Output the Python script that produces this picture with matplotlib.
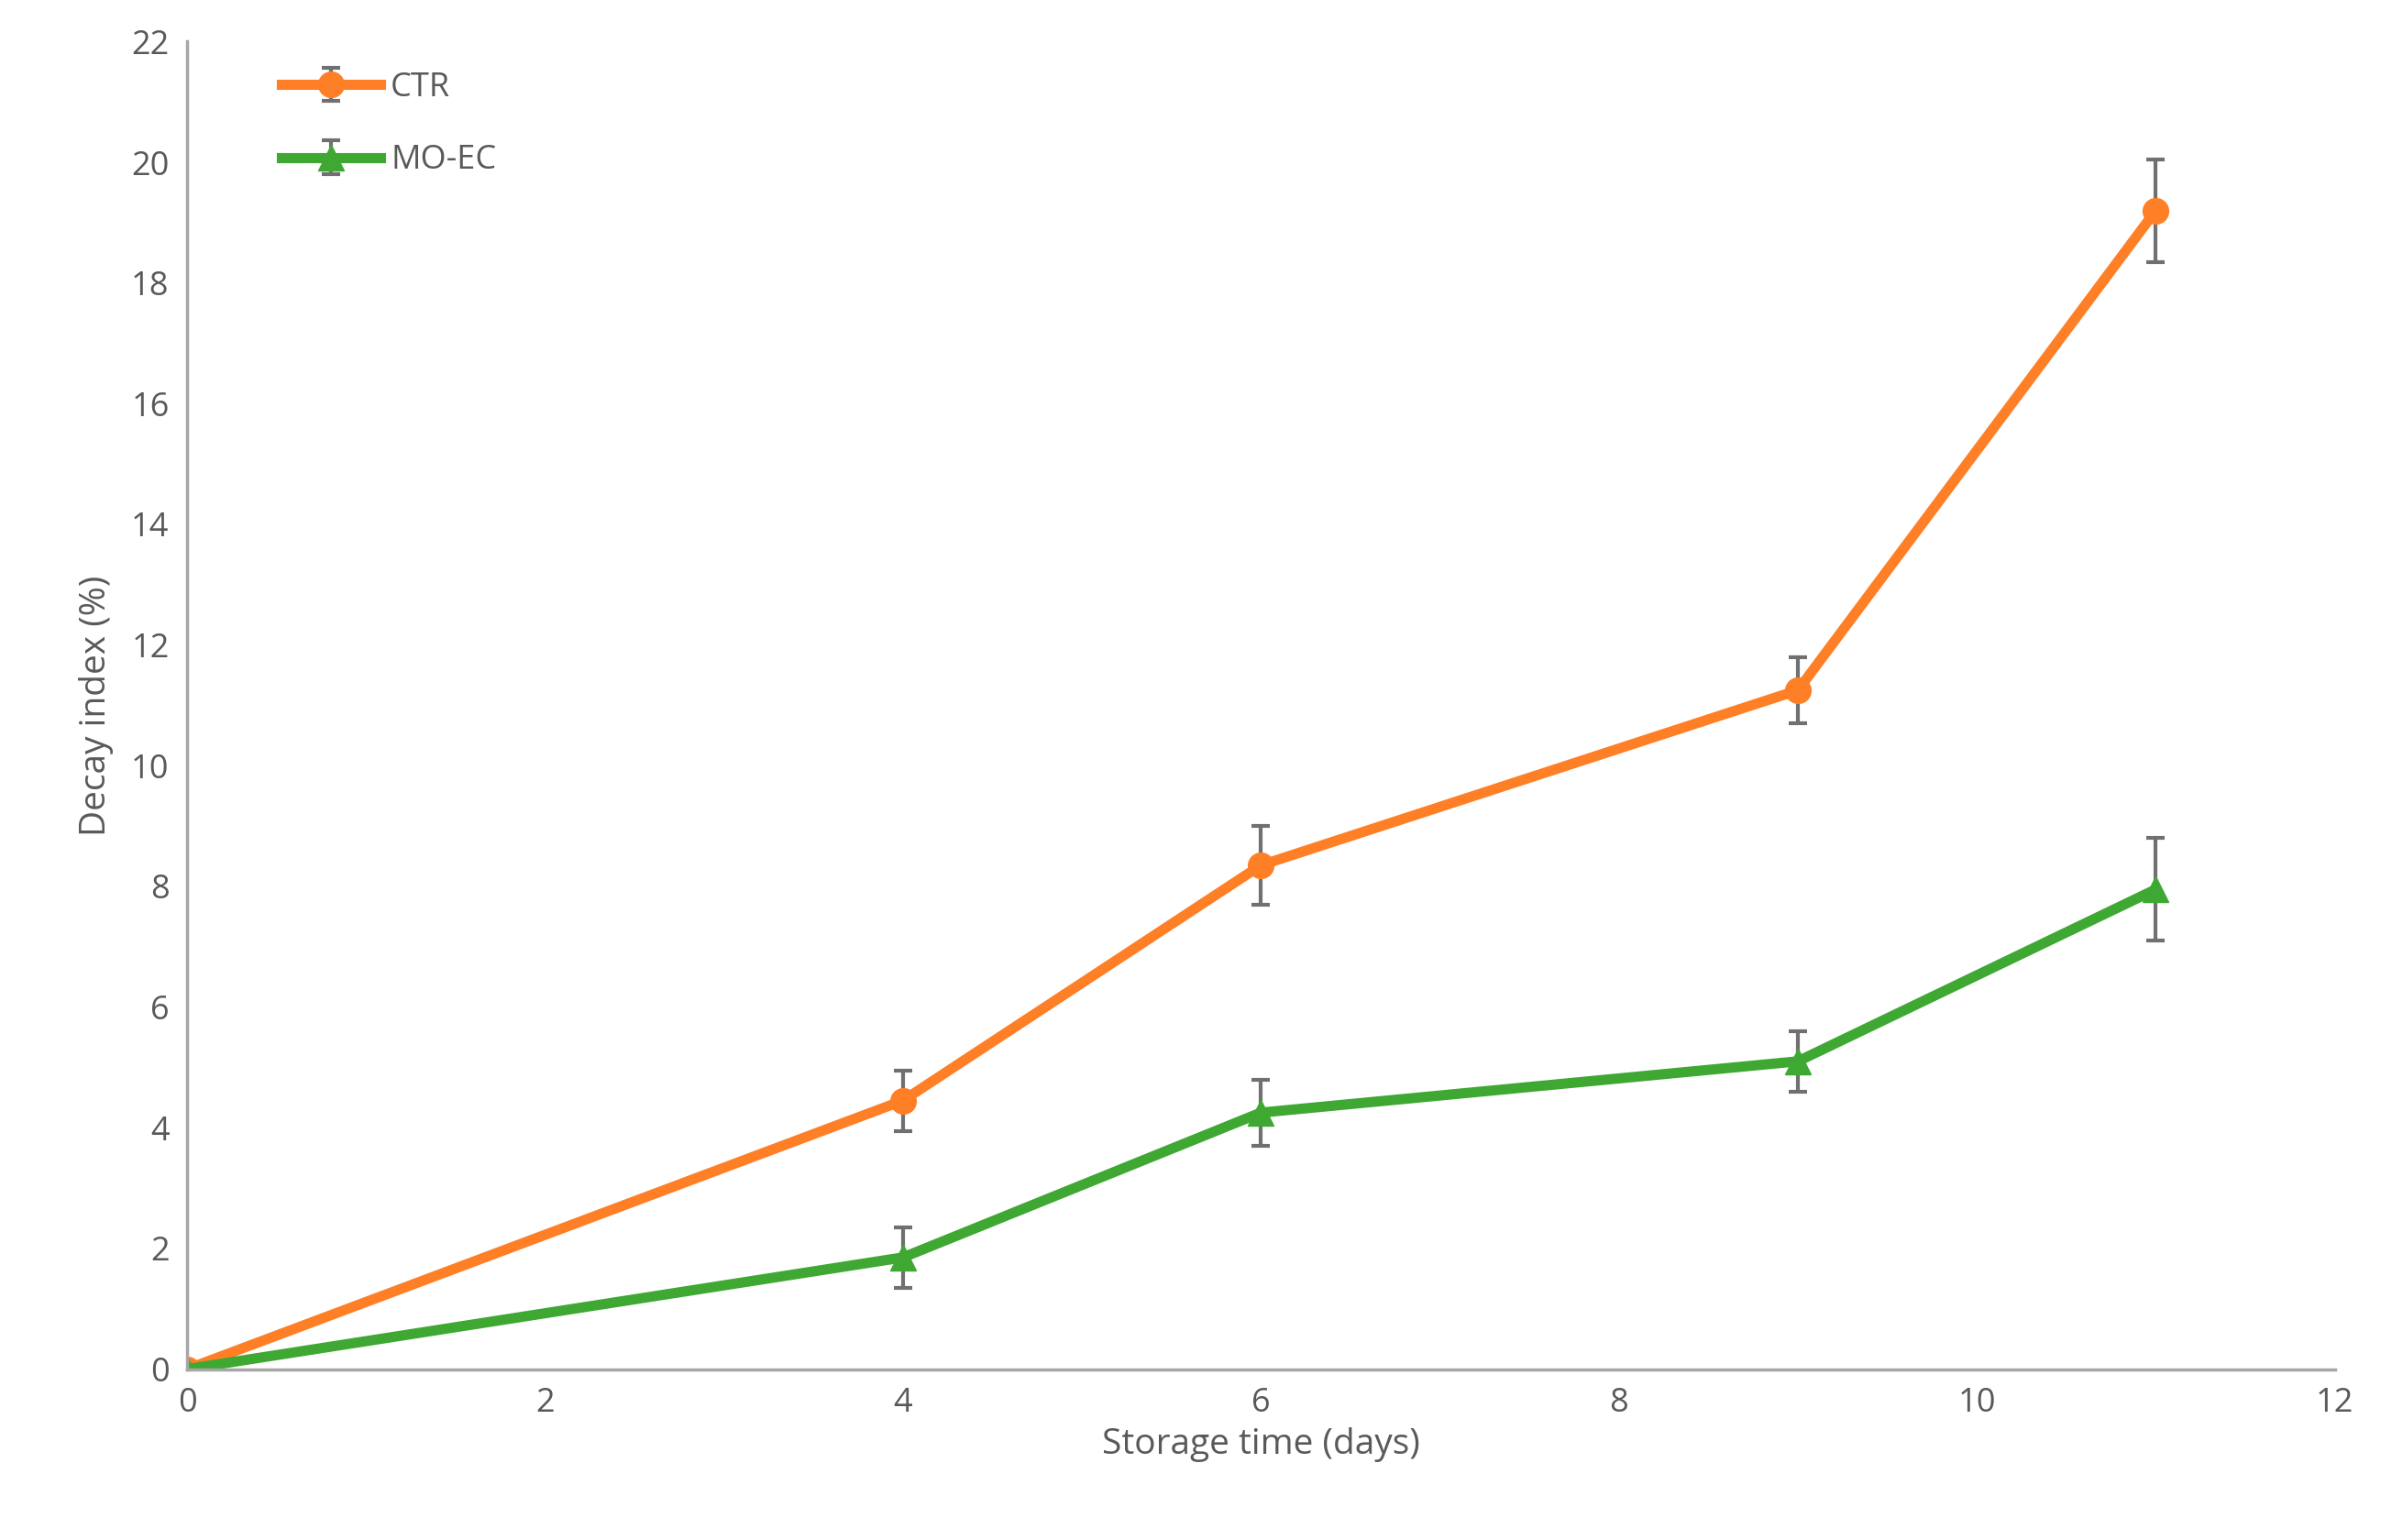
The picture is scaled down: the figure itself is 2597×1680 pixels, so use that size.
import matplotlib
matplotlib.use("Agg")
import matplotlib.pyplot as plt

days = [0, 4, 6, 9, 11]
ctr = [0, 4.45, 8.35, 11.25, 19.2]
ctr_err = [0, 0.5, 0.65, 0.55, 0.85]
moec = [0, 1.85, 4.25, 5.1, 7.95]
moec_err = [0, 0.5, 0.55, 0.5, 0.85]

plt.rcParams['font.family'] = ['Open Sans', 'DejaVu Sans']
gray = '#595959'
fig = plt.figure(figsize=(25.97, 16.8), dpi=100)
ax = fig.add_axes([0.0786, 0.111, 0.902, 0.862])

ax.errorbar(days, ctr, yerr=ctr_err, color='#FF7F27', lw=8, marker='o', ms=20,
            ecolor='#707070', elinewidth=3, capsize=7, capthick=3, label='CTR')
ax.errorbar(days, moec, yerr=moec_err, color='#3EA833', lw=8, marker='^', ms=20,
            ecolor='#707070', elinewidth=3, capsize=7, capthick=3, label='MO-EC')

ax.set_xlim(0, 12)
ax.set_ylim(0, 22)
ax.set_xticks(range(0, 13, 2))
ax.set_yticks(range(0, 23, 2))
for s in ['top', 'right']:
    ax.spines[s].set_visible(False)
for s in ['left', 'bottom']:
    ax.spines[s].set_color('#A6A6A6')
    ax.spines[s].set_linewidth(2.5)
ax.tick_params(axis='both', colors=gray, labelsize=26, length=0, pad=14)
ax.set_xlabel('Storage time (days)', color=gray, fontsize=28, labelpad=6)
ax.set_ylabel('Decay index (%)', color=gray, fontsize=28, labelpad=14)

h, l = ax.get_legend_handles_labels()
leg = ax.legend(h, l, loc='upper left', bbox_to_anchor=(0.03, 1.0), frameon=False,
                fontsize=26, handlelength=3, labelspacing=1.2, handletextpad=0.3)
for t in leg.get_texts():
    t.set_color(gray)

fig.savefig('out.png', dpi=100)
